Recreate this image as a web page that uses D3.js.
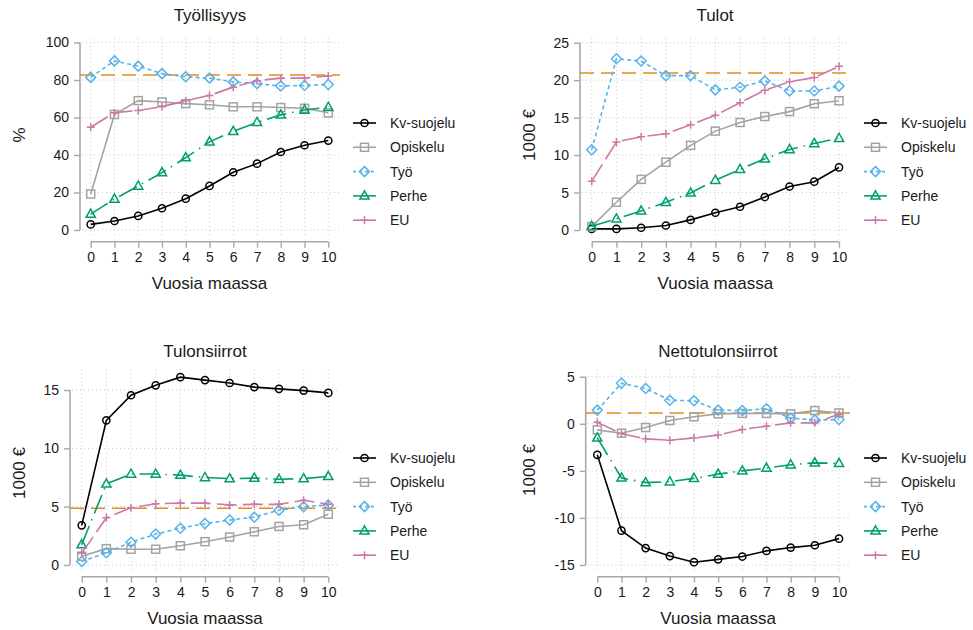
<!DOCTYPE html>
<html><head><meta charset="utf-8">
<script src="https://cdn.jsdelivr.net/npm/d3@7"></script>
<style>
body{margin:0;background:#fff}
text{font-family:"Liberation Sans",Arial,Helvetica,sans-serif;fill:#1a1a1a}
</style></head>
<body><svg id="c" width="973" height="630"></svg>
<script>
// ---------- DATA ----------
const years = [0,1,2,3,4,5,6,7,8,9,10];
const seriesNames = ["Kv-suojelu","Opiskelu","Työ","Perhe","EU"];
const panelTitles = ["Työllisyys","Tulot","Tulonsiirrot","Nettotulonsiirrot"];
const yTitles = ["%","1000 €","1000 €","1000 €"];
const xTitle = "Vuosia maassa";

// Työllisyys (%)
const empKv   = [3.0,4.8,7.5,11.6,16.7,23.5,30.8,35.4,41.6,45.2,47.7];
const empOpi  = [19.2,61.6,69.0,68.3,67.4,66.8,65.7,65.7,65.3,64.9,62.5];
const empTyo  = [81.4,90.2,87.4,83.4,81.7,81.0,79.0,78.0,76.8,77.1,77.6];
const empPer  = [8.5,16.5,23.5,30.6,38.6,47.0,52.6,57.4,61.4,64.0,65.5];
const empEU   = [54.8,62.6,63.7,65.8,68.9,71.8,76.2,79.6,81.0,81.0,82.2];
const empRef  = 82.7;
const empTicks = [0,20,40,60,80,100];

// Tulot (1000 €)
const incKv   = [0.15,0.15,0.3,0.6,1.35,2.3,3.1,4.4,5.8,6.45,8.35];
const incOpi  = [0.45,3.7,6.75,9.05,11.3,13.2,14.35,15.15,15.8,16.85,17.25];
const incTyo  = [10.7,22.85,22.55,20.6,20.6,18.7,19.05,19.9,18.55,18.55,19.2];
const incPer  = [0.5,1.5,2.55,3.7,4.95,6.65,8.1,9.5,10.75,11.55,12.25];
const incEU   = [6.5,11.75,12.45,12.85,14.05,15.3,17.0,18.65,19.8,20.35,21.85];
const incRef  = 20.95;
const incTicks = [0,5,10,15,20,25];

// Tulonsiirrot (1000 €)
const trKv    = [3.4,12.4,14.55,15.4,16.1,15.85,15.6,15.25,15.1,14.95,14.75];
const trOpi   = [0.75,1.4,1.35,1.35,1.65,2.0,2.4,2.85,3.3,3.45,4.35];
const trTyo   = [0.3,1.05,1.95,2.65,3.15,3.55,3.85,4.1,4.7,5.0,5.15];
const trPer   = [1.75,6.95,7.8,7.8,7.7,7.5,7.4,7.45,7.35,7.4,7.6];
const trEU    = [1.0,4.05,4.9,5.25,5.3,5.3,5.15,5.2,5.2,5.55,5.2];
const trRef   = 4.87;
const trTicks = [0,5,10,15];

// Nettotulonsiirrot (1000 €)
const netKv   = [-3.3,-11.35,-13.2,-14.05,-14.7,-14.4,-14.1,-13.5,-13.15,-12.9,-12.2];
const netOpi  = [-0.65,-1.0,-0.4,0.35,0.75,1.05,1.1,1.1,1.05,1.4,1.15];
const netTyo  = [1.45,4.3,3.75,2.5,2.45,1.45,1.4,1.6,0.6,0.4,0.45];
const netPer  = [-1.5,-5.75,-6.25,-6.15,-5.8,-5.35,-5.0,-4.7,-4.35,-4.15,-4.2];
const netEU   = [0.15,-1.05,-1.6,-1.75,-1.5,-1.2,-0.6,-0.25,0.1,0.1,1.0];
const netRef  = 1.15;
const netTicks = [-15,-10,-5,0,5];

// ---------- STYLE / LAYOUT ----------
const colors = ["#000000","#a3a3a3","#56b4e9","#009e73","#cc79a7"];
const dashes = [null,null,"4,3","20,6,1.5,6","20,6"];
const symbols = ["circle","square","diamond","triangle","plus"];
const refColor = "#e38b1c";

const panels = [
  {series:[empKv,empOpi,empTyo,empPer,empEU], ref:empRef, ticks:empTicks,
   yDom:[0,100], yRng:[230,42.5], x0:90.7, x10:328.3, axX:80, axY:241.7, right:340,
   gTop:38, gBot:237, tY:21, xtY:289, ytX:25, ytY:135, legX:353, legY:123},
  {series:[incKv,incOpi,incTyo,incPer,incEU], ref:incRef, ticks:incTicks,
   yDom:[0,25], yRng:[230,42.7], x0:591.7, x10:839, axX:580, axY:241.7, right:850,
   gTop:38, gBot:237, tY:21, xtY:289, ytX:535, ytY:135, legX:864, legY:123},
  {series:[trKv,trOpi,trTyo,trPer,trEU], ref:trRef, ticks:trTicks,
   yDom:[0,15], yRng:[565,390], x0:81.7, x10:328.3, axX:70, axY:576.7, right:340,
   gTop:369, gBot:571, tY:357, xtY:624, ytX:25, ytY:473, legX:353, legY:458},
  {series:[netKv,netOpi,netTyo,netPer,netEU], ref:netRef, ticks:netTicks,
   yDom:[-15,5], yRng:[565,376.7], x0:597.3, x10:839, axX:585.7, axY:576.7, right:850,
   gTop:369, gBot:571, tY:357, xtY:624, ytX:535, ytY:470, legX:864, legY:458}
];

const svg = d3.select("#c");
const axisCol = "#a8a8a8";

function drawMarker(g, type, x, y, col){
  if(type==="circle"){
    g.append("circle").attr("cx",x).attr("cy",y).attr("r",3.6)
      .attr("fill","none").attr("stroke",col).attr("stroke-width",1.5);
  } else if(type==="square"){
    g.append("rect").attr("x",x-4).attr("y",y-4).attr("width",8).attr("height",8)
      .attr("fill","none").attr("stroke",col).attr("stroke-width",1.5);
  } else if(type==="diamond"){
    g.append("path").attr("d",`M${x},${y-5}L${x+5},${y}L${x},${y+5}L${x-5},${y}Z`)
      .attr("fill","none").attr("stroke",col).attr("stroke-width",1.5);
  } else if(type==="triangle"){
    g.append("path").attr("d",`M${x},${y-5}L${x+4.6},${y+3.2}L${x-4.6},${y+3.2}Z`)
      .attr("fill","none").attr("stroke",col).attr("stroke-width",1.5);
  } else {
    g.append("path").attr("d",`M${x-4},${y}H${x+4}M${x},${y-4}V${y+4}`)
      .attr("fill","none").attr("stroke",col).attr("stroke-width",1.5);
  }
}

panels.forEach((p,pi)=>{
  const g = svg.append("g");
  const x = d3.scaleLinear().domain([0,10]).range([p.x0,p.x10]);
  const y = d3.scaleLinear().domain(p.yDom).range(p.yRng);

  // grid
  const grid = g.append("g").attr("stroke","#c8c8c8").attr("stroke-width",1).attr("stroke-dasharray","1,3");
  years.forEach(v=>grid.append("line").attr("x1",x(v)).attr("x2",x(v)).attr("y1",p.gTop).attr("y2",p.gBot));
  p.ticks.forEach(v=>grid.append("line").attr("x1",p.axX+2).attr("x2",p.right).attr("y1",y(v)).attr("y2",y(v)));

  // axes
  const yAxis = d3.axisLeft(y).tickValues(p.ticks).tickSize(6).tickPadding(5).tickFormat(d=>String(d));
  const ya = g.append("g").attr("transform",`translate(${p.axX},0)`).call(yAxis);
  const xAxis = d3.axisBottom(x).tickValues(years).tickSize(6).tickPadding(4).tickFormat(d=>String(d));
  const xa = g.append("g").attr("transform",`translate(0,${p.axY})`).call(xAxis);
  [ya,xa].forEach(a=>{
    a.select(".domain").attr("stroke",axisCol).attr("stroke-width",1.6);
    a.selectAll(".tick line").attr("stroke",axisCol).attr("stroke-width",1.4);
    a.selectAll(".tick text").attr("font-size",14).attr("fill","#1a1a1a")
      .style("font-family","'Liberation Sans',Arial,sans-serif");
  });
  ya.select(".domain").attr("d",`M0,${y(p.yDom[0])}V${y(p.yDom[1])}`);
  xa.select(".domain").attr("d",`M${x(0)},0H${x(10)}`);

  // reference line
  g.append("line").attr("x1",p.axX).attr("x2",p.right).attr("y1",y(p.ref)).attr("y2",y(p.ref))
    .attr("stroke",refColor).attr("stroke-width",1.6).attr("stroke-dasharray","14,7");

  // series
  const line = d3.line().x((d,i)=>x(years[i])).y(d=>y(d));
  p.series.forEach((s,si)=>{
    const sg = g.append("g");
    sg.append("path").datum(s).attr("d",line).attr("fill","none")
      .attr("stroke",colors[si]).attr("stroke-width",1.6)
      .attr("stroke-dasharray",dashes[si]);
    s.forEach((v,i)=>drawMarker(sg,symbols[si],x(years[i]),y(v),colors[si]));
  });

  // titles
  g.append("text").attr("x",(p.axX+p.right)/2).attr("y",p.tY).attr("text-anchor","middle")
    .attr("font-size",17).text(panelTitles[pi]);
  g.append("text").attr("x",(x(0)+x(10))/2).attr("y",p.xtY).attr("text-anchor","middle")
    .attr("font-size",17).text(xTitle);
  g.append("text").attr("transform",`translate(${p.ytX},${p.ytY}) rotate(-90)`)
    .attr("text-anchor","middle").attr("font-size",17).text(yTitles[pi]);

  // legend
  seriesNames.forEach((n,si)=>{
    const ly = p.legY + si*24.3;
    const lg = g.append("g");
    lg.append("line").attr("x1",p.legX).attr("x2",p.legX+23).attr("y1",ly).attr("y2",ly)
      .attr("stroke",colors[si]).attr("stroke-width",1.6)
      .attr("stroke-dasharray",si===2?"3,3":null);
    drawMarker(lg,symbols[si],p.legX+11.5,ly,colors[si]);
    lg.append("text").attr("x",p.legX+37).attr("y",ly+5).attr("font-size",14).text(n);
  });
});
</script></body></html>
